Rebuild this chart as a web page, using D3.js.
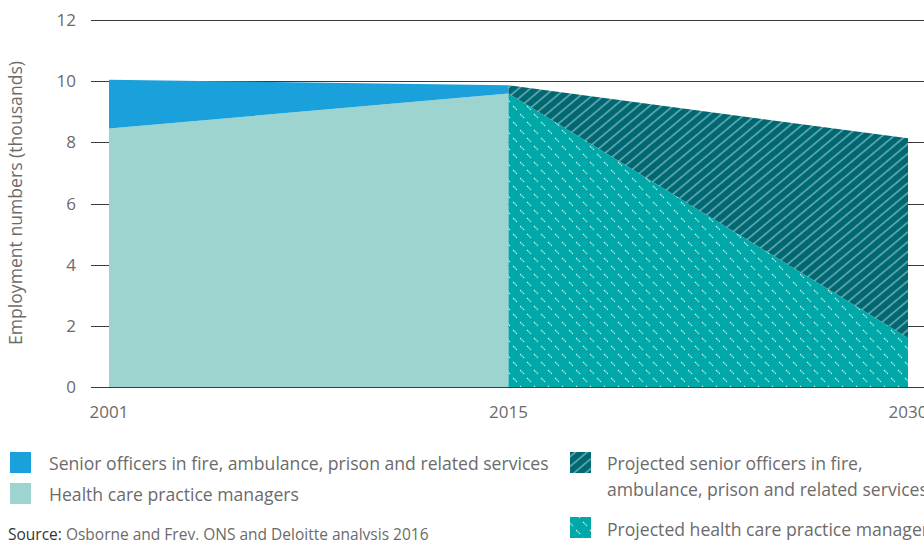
<!DOCTYPE html>
<html>
<head>
<meta charset="utf-8">
<script src="https://cdn.jsdelivr.net/npm/d3@7"></script>
<style>
  body { margin: 0; background: #fff; }
  svg { display: block; font-family: "Open Sans", sans-serif; }
</style>
</head>
<body>
<svg width="924" height="540"></svg>
<script>
// data
const years = ["2001", "2015", "2030"];
const healthManagers = [8.45, 9.6, null];
const seniorOfficers = [1.6, 0.27, null];
const projHealth = [null, 9.6, 1.6];
const projSenior = [null, 0.27, 6.53];
const yTicks = [0, 2, 4, 6, 8, 10, 12];

const legendLeft = [
  { label: "Senior officers in fire, ambulance, prison and related services", fill: "#1aa1db" },
  { label: "Health care practice managers", fill: "#9dd4cf" }
];

var svg = d3.select("svg");

// patterns for the projected areas
const defs = svg.append("defs");
const hatch = defs.append("pattern")
  .attr("id", "hatchSenior")
  .attr("patternUnits", "userSpaceOnUse")
  .attr("width", 7.5).attr("height", 10)
  .attr("patternTransform", "rotate(50)");
hatch.append("rect").attr("width", 7.5).attr("height", 10).attr("fill", "#006872");
hatch.append("line")
  .attr("x1", 3.75).attr("y1", 0).attr("x2", 3.75).attr("y2", 10)
  .attr("stroke", "#a8d2d4").attr("stroke-width", 1);

const dots = defs.append("pattern")
  .attr("id", "dashHealth")
  .attr("patternUnits", "userSpaceOnUse")
  .attr("width", 14).attr("height", 16);
dots.append("rect").attr("width", 14).attr("height", 16).attr("fill", "#00a8a8");
dots.selectAll("line")
  .data([[2, 2], [9, 10]])
  .join("line")
  .attr("x1", d => d[0]).attr("y1", d => d[1])
  .attr("x2", d => d[0] + 4).attr("y2", d => d[1] + 4)
  .attr("stroke", "#d6f0f0").attr("stroke-width", 1.1)
  .attr("stroke-dasharray", "1.4,0.7");

// scales
const x = d3.scalePoint().domain(years).range([109, 908]);
const y = d3.scaleLinear().domain([0, 12]).range([387, 20]);

// gridlines
svg.append("g")
  .selectAll("line")
  .data(yTicks)
  .join("line")
  .attr("x1", 91).attr("x2", 924)
  .attr("y1", d => Math.round(y(d)) + 0.5)
  .attr("y2", d => Math.round(y(d)) + 0.5)
  .attr("stroke", "#3a3a3a").attr("stroke-width", 1);

// y tick labels
svg.append("g")
  .selectAll("text")
  .data(yTicks)
  .join("text")
  .attr("x", 76)
  .attr("y", d => y(d) + 6)
  .attr("text-anchor", "end")
  .attr("font-size", 17)
  .attr("fill", "#6b6b6b")
  .text(d => d);

// areas (stacked)
const idx = years.map((d, i) => i);
function band(lower, upper) {
  return d3.area()
    .defined(i => upper[i] != null)
    .x(i => x(years[i]))
    .y0(i => y(lower ? lower[i] : 0))
    .y1(i => y((lower ? lower[i] : 0) + upper[i]));
}

svg.append("path").datum(idx)
  .attr("d", band(null, healthManagers))
  .attr("fill", "#9dd4cf");
svg.append("path").datum(idx)
  .attr("d", band(healthManagers, seniorOfficers))
  .attr("fill", "#1aa1db");
svg.append("path").datum(idx)
  .attr("d", band(null, projHealth))
  .attr("fill", "url(#dashHealth)");
svg.append("path").datum(idx)
  .attr("d", band(projHealth, projSenior))
  .attr("fill", "url(#hatchSenior)");

// x labels
svg.append("g")
  .selectAll("text")
  .data(years)
  .join("text")
  .attr("x", d => x(d))
  .attr("y", 418)
  .attr("text-anchor", "middle")
  .attr("font-size", 17)
  .attr("fill", "#6b6b6b")
  .text(d => d);

// y axis title
svg.append("text")
  .attr("transform", "translate(22,203) rotate(-90)")
  .attr("text-anchor", "middle")
  .attr("font-size", 17.6)
  .attr("fill", "#6b6b6b")
  .text("Employment numbers (thousands)");

// legend left
const lg = svg.append("g");
legendLeft.forEach((d, i) => {
  lg.append("rect")
    .attr("x", 10).attr("y", 452 + i * 31)
    .attr("width", 21).attr("height", 21)
    .attr("fill", d.fill);
  lg.append("text")
    .attr("x", 49).attr("y", 470 + i * 31)
    .attr("font-size", 17.6)
    .attr("fill", "#6b6b6b")
    .text(d.label);
});

// legend right (projected)
lg.append("rect")
  .attr("x", 570).attr("y", 452)
  .attr("width", 21).attr("height", 21)
  .attr("fill", "url(#hatchSenior)");
lg.append("text")
  .attr("x", 607).attr("y", 470)
  .attr("font-size", 17.6).attr("fill", "#6b6b6b")
  .text("Projected senior officers in fire,");
lg.append("text")
  .attr("x", 607).attr("y", 496)
  .attr("font-size", 17.6).attr("fill", "#6b6b6b")
  .text("ambulance, prison and related services");
lg.append("rect")
  .attr("x", 570).attr("y", 517)
  .attr("width", 21).attr("height", 21)
  .attr("fill", "url(#dashHealth)");
lg.append("text")
  .attr("x", 607).attr("y", 536)
  .attr("font-size", 17.6).attr("fill", "#6b6b6b")
  .text("Projected health care practice managers");

// source
const src = svg.append("text")
  .attr("x", 8).attr("y", 540)
  .attr("font-size", 15.5).attr("fill", "#6b6b6b");
src.append("tspan").attr("fill", "#333").text("Source: ");
src.append("tspan").text("Osborne and Frey, ONS and Deloitte analysis 2016");
</script>
</body>
</html>
